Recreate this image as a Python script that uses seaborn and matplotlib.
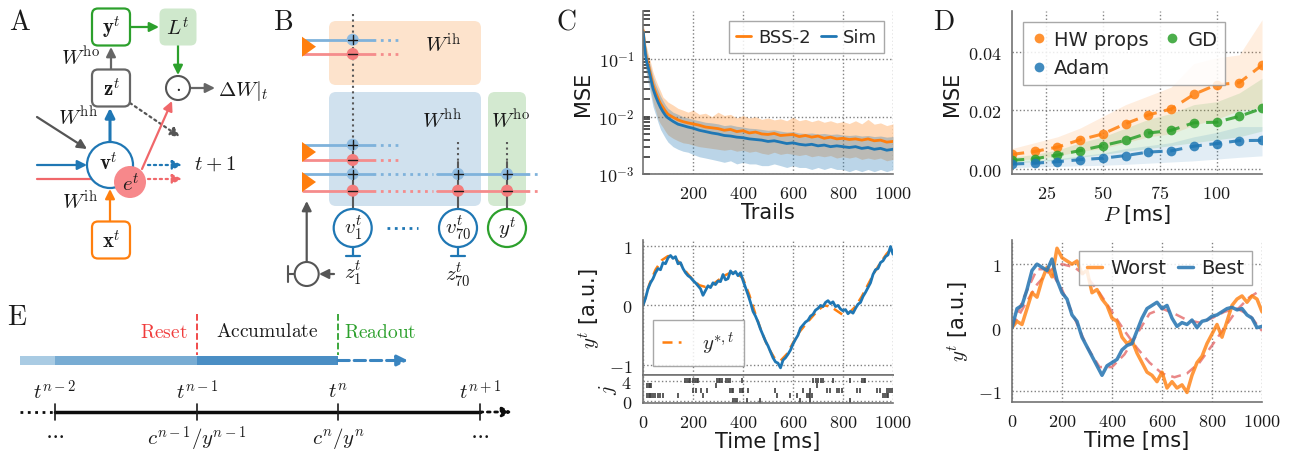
import numpy as np
import matplotlib
matplotlib.use('Agg')
import matplotlib.pyplot as plt
import seaborn as sns
from matplotlib.patches import FancyBboxPatch, Circle, Rectangle, Polygon
from matplotlib.ticker import FuncFormatter, FixedLocator, LogLocator, NullFormatter
from matplotlib.lines import Line2D

# ---------------- data ----------------
# Panel C (top): MSE vs trials
trials = [1, 5, 10, 15, 20, 30, 40, 50, 60, 70, 80, 90, 100, 120, 140, 160, 180, 200, 225, 250,
          275, 300, 325, 350, 375, 400, 425, 450, 475, 500, 525, 550, 575, 600, 625, 650, 675, 700,
          725, 750, 775, 800, 825, 850, 875, 900, 925, 950, 975, 1000]
bss_mean = [0.32, 0.2, 0.13, 0.1, 0.085, 0.055, 0.036, 0.027, 0.021, 0.017, 0.0145, 0.0125, 0.011,
            0.0098, 0.0088, 0.0082, 0.0078, 0.0075, 0.0071, 0.0066, 0.0064, 0.0062, 0.0058, 0.006,
            0.0055, 0.0057, 0.0052, 0.0054, 0.005, 0.0049, 0.0051, 0.0047, 0.0048, 0.0049, 0.0045,
            0.0047, 0.0044, 0.0046, 0.0042, 0.0044, 0.0041, 0.0042, 0.004, 0.0041, 0.0039, 0.0041,
            0.0038, 0.0039, 0.0036, 0.0037]
bss_upper = [0.45, 0.3, 0.2, 0.16, 0.13, 0.09, 0.06, 0.045, 0.035, 0.028, 0.022, 0.02, 0.018, 0.016,
             0.014, 0.013, 0.012, 0.013, 0.011, 0.0115, 0.01, 0.012, 0.0105, 0.011, 0.0095, 0.0105,
             0.0095, 0.01, 0.009, 0.0095, 0.0088, 0.0092, 0.0085, 0.0098, 0.0085, 0.009, 0.0082,
             0.0088, 0.008, 0.0085, 0.0078, 0.0082, 0.0076, 0.0085, 0.0075, 0.009, 0.0074, 0.0078,
             0.007, 0.0075]
bss_lower = [0.2, 0.12, 0.075, 0.055, 0.045, 0.03, 0.018, 0.013, 0.009, 0.0075, 0.0065, 0.0055,
             0.0048, 0.0042, 0.0038, 0.0035, 0.0034, 0.0032, 0.003, 0.0029, 0.0028, 0.0027, 0.0026,
             0.0027, 0.0025, 0.0026, 0.0024, 0.0025, 0.0023, 0.0022, 0.0024, 0.0022, 0.0023, 0.0022,
             0.0021, 0.0022, 0.002, 0.0021, 0.002, 0.0021, 0.0019, 0.002, 0.0019, 0.002, 0.0018,
             0.0019, 0.0018, 0.0019, 0.0017, 0.0018]
sim_mean = [0.3, 0.19, 0.12, 0.09, 0.075, 0.048, 0.031, 0.023, 0.018, 0.0145, 0.0122, 0.0105, 0.0095,
            0.0083, 0.0074, 0.007, 0.0066, 0.0063, 0.0058, 0.0055, 0.0052, 0.005, 0.0047, 0.0046,
            0.0044, 0.0043, 0.0041, 0.004, 0.0039, 0.0037, 0.0038, 0.0036, 0.0034, 0.0035, 0.0033,
            0.0032, 0.0033, 0.0031, 0.0032, 0.003, 0.0031, 0.003, 0.0029, 0.003, 0.0028, 0.0029,
            0.0027, 0.0028, 0.0026, 0.0027]
sim_upper = [0.4, 0.27, 0.18, 0.14, 0.11, 0.075, 0.05, 0.037, 0.029, 0.023, 0.019, 0.016, 0.014,
             0.012, 0.011, 0.01, 0.0095, 0.009, 0.0085, 0.008, 0.0078, 0.0075, 0.007, 0.0072, 0.0068,
             0.0066, 0.0063, 0.0062, 0.006, 0.0058, 0.0059, 0.0056, 0.0054, 0.0055, 0.0052, 0.0051,
             0.0052, 0.005, 0.0051, 0.0049, 0.005, 0.0048, 0.0047, 0.0048, 0.0046, 0.0047, 0.0045,
             0.0046, 0.0044, 0.0045]
sim_lower = [0.2, 0.12, 0.07, 0.05, 0.04, 0.025, 0.015, 0.011, 0.008, 0.006, 0.005, 0.0042, 0.0036,
             0.003, 0.0027, 0.0025, 0.0024, 0.0022, 0.002, 0.0019, 0.0018, 0.0017, 0.0016, 0.0017,
             0.0015, 0.0016, 0.0015, 0.0015, 0.0014, 0.0014, 0.0015, 0.0014, 0.0013, 0.0014, 0.0013,
             0.0013, 0.0012, 0.0013, 0.0012, 0.0013, 0.0012, 0.0012, 0.0011, 0.0012, 0.0011, 0.0012,
             0.0011, 0.0012, 0.0011, 0.0012]

# Panel C (bottom): target and output trace
target_t = list(range(0, 1001, 25))
target_c = [0.0, 0.35, 0.6, 0.76, 0.83, 0.81, 0.70, 0.55, 0.43, 0.34, 0.31, 0.34, 0.42, 0.50, 0.55,
            0.55, 0.45, 0.18, -0.15, -0.45, -0.70, -0.88, -0.93, -0.82, -0.63, -0.45, -0.32, -0.20,
            -0.08, 0.0, -0.02, -0.09, -0.16, -0.12, -0.02, 0.15, 0.35, 0.55, 0.72, 0.87, 0.98]
output_t = list(range(0, 1001, 10))
output_c = [0.0, 0.12, 0.28, 0.38, 0.45, 0.55, 0.62, 0.60, 0.72, 0.70, 0.80, 0.84, 0.79, 0.82, 0.70,
            0.72, 0.62, 0.55, 0.50, 0.47, 0.42, 0.38, 0.33, 0.28, 0.17, 0.25, 0.33, 0.30, 0.38, 0.35,
            0.41, 0.40, 0.52, 0.43, 0.45, 0.58, 0.53, 0.57, 0.50, 0.55, 0.42, 0.30, 0.18, 0.05, -0.10,
            -0.18, -0.28, -0.40, -0.50, -0.60, -0.68, -0.78, -0.88, -0.95, -0.97, -1.05, -0.92, -0.88,
            -0.82, -0.75, -0.65, -0.57, -0.50, -0.38, -0.33, -0.28, -0.25, -0.18, -0.15, -0.08, -0.05,
            0.0, -0.02, 0.05, 0.08, 0.03, 0.06, -0.02, 0.0, -0.06, -0.09, -0.07, -0.14, -0.10, -0.13,
            -0.05, 0.02, 0.05, 0.15, 0.22, 0.30, 0.38, 0.52, 0.60, 0.62, 0.72, 0.75, 0.82, 0.85, 0.99,
            0.86]

# Panel C (raster): spike times of 5 hidden units
spikes_j0 = [361, 368, 375, 415, 468, 628, 668, 828]
spikes_j1 = [17, 22, 27, 33, 40, 48, 60, 68, 81, 141, 241, 535, 588, 615, 655, 662, 668, 675,
             961, 968, 975, 981]
spikes_j2 = [201, 212, 230, 255, 348, 355, 361, 388, 395, 401, 421, 528, 641, 668, 735, 748, 775,
             785, 795, 855, 868, 935, 948, 975, 983, 990, 999]
spikes_j3 = [17, 22, 28, 31, 292, 697]
spikes_j4 = [168, 175, 182, 188, 201, 207, 214, 221, 295, 302, 308, 315, 331, 338, 348, 395, 681,
             690, 700, 712, 721, 761, 828, 875, 882, 888]

# Panel D (top): MSE vs period P
period = [10, 20, 30, 40, 50, 60, 70, 80, 90, 100, 110, 120]
hw_mean = [0.005, 0.006, 0.0075, 0.010, 0.012, 0.0155, 0.0185, 0.0205, 0.0255, 0.0288, 0.0295, 0.0355]
hw_upper = [0.007, 0.009, 0.011, 0.014, 0.018, 0.022, 0.025, 0.028, 0.036, 0.038, 0.039, 0.051]
hw_lower = [0.003, 0.0035, 0.0045, 0.006, 0.007, 0.009, 0.011, 0.012, 0.015, 0.017, 0.02, 0.021]
gd_mean = [0.003, 0.0035, 0.0048, 0.0063, 0.008, 0.0098, 0.0123, 0.0132, 0.0158, 0.016, 0.018, 0.0207]
gd_upper = [0.004, 0.005, 0.0065, 0.009, 0.011, 0.014, 0.017, 0.019, 0.022, 0.023, 0.026, 0.031]
gd_lower = [0.002, 0.0025, 0.003, 0.004, 0.005, 0.006, 0.007, 0.008, 0.009, 0.010, 0.011, 0.013]
adam_mean = [0.0017, 0.002, 0.0025, 0.0032, 0.0037, 0.0046, 0.0058, 0.0062, 0.0078, 0.0087, 0.0097, 0.0098]
adam_upper = [0.0025, 0.003, 0.0035, 0.0045, 0.0055, 0.007, 0.008, 0.009, 0.011, 0.0125, 0.0145, 0.0145]
adam_lower = [0.0005, 0.0007, 0.0009, 0.0011, 0.0013, 0.0016, 0.002, 0.0024, 0.0028, 0.0034, 0.004, 0.0045]

# Panel D (bottom): worst / best traces with their targets
target_d_t = list(range(0, 1001, 50))
target_best = [0.0, 0.5, 0.92, 0.92, 0.6, 0.15, -0.3, -0.62, -0.62, -0.42, -0.1, 0.22, 0.3, 0.22,
               0.12, 0.08, 0.15, 0.25, 0.3, 0.2, -0.05]
target_worst = [0.0, 0.35, 0.68, 0.9, 1.0, 0.95, 0.8, 0.55, 0.25, -0.05, -0.32, -0.55, -0.72, -0.78,
                -0.72, -0.55, -0.28, 0.0, 0.28, 0.48, 0.6]
trace_d_t = list(range(0, 1001, 20))
best_trace = [0.0, 0.3, 0.35, 0.6, 0.9, 1.0, 0.95, 0.9, 1.08, 0.75, 0.55, 0.45, 0.2, 0.1, -0.15, -0.3,
              -0.45, -0.6, -0.75, -0.6, -0.55, -0.5, -0.35, -0.28, -0.25, -0.05, 0.15, 0.3, 0.35, 0.4,
              0.3, 0.35, 0.15, 0.02, 0.08, 0.05, 0.12, 0.0, 0.1, 0.12, 0.18, 0.2, 0.25, 0.3, 0.32,
              0.28, 0.3, 0.2, 0.15, 0.0, 0.02]
worst_trace = [0.0, 0.1, 0.05, 0.3, 0.55, 0.48, 0.75, 0.95, 0.8, 1.25, 1.1, 1.05, 1.0, 1.05, 0.85,
               0.9, 0.55, 0.6, 0.45, 0.35, 0.15, 0.1, -0.15, -0.25, -0.2, -0.4, -0.55, -0.7, -0.75,
               -0.85, -0.7, -0.95, -0.85, -0.95, -0.9, -1.02, -0.75, -0.55, -0.45, -0.25, -0.1, 0.05,
               -0.15, 0.1, 0.35, 0.45, 0.5, 0.4, 0.5, 0.45, 0.25]

# ---------------- style ----------------
sns.set_theme(style='whitegrid')
plt.rcParams.update({
    'mathtext.fontset': 'cm',
    'grid.linestyle': ':',
    'grid.color': '0.5',
    'grid.linewidth': 1.0,
    'axes.edgecolor': '0.45',
    'axes.linewidth': 1.2,
    'axes.labelcolor': '0.1',
    'xtick.color': '0.1',
    'ytick.color': '0.1',
    'legend.edgecolor': '0.6',
    'legend.fancybox': False,
    'legend.framealpha': 0.85,
})
plt.rcParams['font.family'] = ['DejaVu Sans']

BLUE = '#1f77b4'
ORANGE = '#ff7f0e'
GREEN = '#2ca02c'
RED = '#f0676a'
REDFILL = '#f7888b'

TICK_FS = 13
LABEL_FS = 15

fmt_int = FuncFormatter(lambda v, p: f'${v:g}$')
fmt_2f = FuncFormatter(lambda v, p: f'${v:.2f}$')
fmt_log = FuncFormatter(lambda v, p: f'$10^{{{int(round(np.log10(v)))}}}$')

fig = plt.figure(figsize=(12.94, 4.52), dpi=100)
W, H = 1294, 452

# diagram canvas in pixel coordinates
dax = fig.add_axes([0, 0, 1, 1])
dax.set_xlim(0, W)
dax.set_ylim(H, 0)
dax.axis('off')


def box(cx, cy, w, h, ec, fc='white', lw=1.6, r=6):
    dax.add_patch(FancyBboxPatch((cx - w / 2, cy - h / 2), w, h,
                                 boxstyle=f'round,pad=0,rounding_size={r}',
                                 ec=ec, fc=fc, lw=lw, zorder=3))


def arrow(x0, y0, x1, y1, color, lw=1.6, ls='-', ms=14, z=2):
    dax.annotate('', xy=(x1, y1), xytext=(x0, y0),
                 arrowprops=dict(arrowstyle='-|>', color=color, lw=lw, ls=ls,
                                 mutation_scale=ms, shrinkA=0, shrinkB=0),
                 zorder=z)


def txt(x, y, s, fs=15, color='0.1', ha='center', va='center', z=5):
    dax.text(x, y, s, fontsize=fs, color=color, ha=ha, va=va, zorder=z)


# ---------------- Panel A ----------------
txt(20, 22, r'$\mathrm{A}$', fs=20)
box(111, 28, 38, 37, GREEN)
box(178, 28, 37, 37, 'none', fc='#cfe8cc')
box(111, 89, 38, 37, '#666666')
box(111, 241, 38, 37, ORANGE)
txt(111, 28, r'$\mathbf{y}^t$', fs=15)
txt(178, 28, r'$L^t$', fs=15)
txt(111, 89, r'$\mathbf{z}^t$', fs=15)
txt(111, 241, r'$\mathbf{x}^t$', fs=15)
arrow(130, 28, 159, 28, GREEN)
arrow(178, 46, 178, 76, GREEN)
arrow(111, 70, 111, 48, '#666666')
dax.add_patch(Circle((178, 89), 12, ec='#555555', fc='white', lw=1.5, zorder=3))
txt(178, 87, r'$\cdot$', fs=15)
arrow(190, 89, 215, 89, '#666666')
txt(218, 91, r'$\Delta W|_t$', fs=15, ha='left')
txt(80, 57, r'$W^{\mathrm{ho}}$', fs=15)
txt(78, 117, r'$W^{\mathrm{hh}}$', fs=15)
txt(80, 202, r'$W^{\mathrm{ih}}$', fs=15)
arrow(37, 118, 87, 150, '#555555')
arrow(130, 104, 180, 138, '#555555', ls=':')
arrow(110, 143, 110, 109, BLUE, lw=2.2)
arrow(110, 222, 110, 190, ORANGE)
arrow(37, 166, 87, 166, BLUE)
arrow(37, 180, 112, 180, RED)
dax.add_patch(Circle((110, 166), 23, ec=BLUE, fc='white', lw=1.6, zorder=3))
txt(108, 163, r'$\mathbf{v}^t$', fs=15)
dax.add_patch(Circle((130, 183), 16, ec='none', fc=REDFILL, zorder=4))
txt(131, 184, r'$e^t$', fs=15)
arrow(148, 166, 182, 166, BLUE, ls=':')
arrow(148, 180, 182, 180, RED, ls=':')
arrow(142, 170, 172, 102, RED)
txt(215, 164, r'$t+1$', fs=15)

# ---------------- Panel B ----------------
txt(283, 22, r'$\mathrm{B}$', fs=20)
dax.add_patch(FancyBboxPatch((329, 22), 152, 64, boxstyle='round,pad=0,rounding_size=7',
                             ec='none', fc='#fde3cc', zorder=1))
dax.add_patch(FancyBboxPatch((329, 93), 152, 114, boxstyle='round,pad=0,rounding_size=7',
                             ec='none', fc='#d0e1ee', zorder=1))
dax.add_patch(FancyBboxPatch((488, 93), 38, 114, boxstyle='round,pad=0,rounding_size=7',
                             ec='none', fc='#d3e9d0', zorder=1))
txt(443, 45, r'$W^{\mathrm{ih}}$', fs=15)
txt(442, 120, r'$W^{\mathrm{hh}}$', fs=15)
txt(510, 120, r'$W^{\mathrm{ho}}$', fs=15)
LB, LR = '#7fb2db', '#f58c8c'
col1, col2, col3 = 352.7, 458, 507
# vertical wires
dax.plot([col1, col1], [15, 143], ls=':', color='0.35', lw=1.5, zorder=2)
dax.plot([col1, col1], [143, 210], ls='-', color='0.35', lw=1.5, zorder=2)
for cx in (col2, col3):
    dax.plot([cx, cx], [143, 163], ls=':', color='0.35', lw=1.5, zorder=2)
    dax.plot([cx, cx], [163, 210], ls='-', color='0.35', lw=1.5, zorder=2)
# horizontal wires
for yy, cc in ((40.7, LB), (55, LR), (145.7, LB), (161, LR)):
    dax.plot([303, 373], [yy, yy], color=cc, lw=2, zorder=2)
    dax.plot([373, 402], [yy, yy], color=cc, lw=2, ls=':', zorder=2)
for yy, cc in ((175, LB), (191.7, LR)):
    dax.plot([303, 373], [yy, yy], color=cc, lw=2, zorder=2)
    dax.plot([373, 433], [yy, yy], color=cc, lw=2, ls=':', zorder=2)
    dax.plot([437, 527], [yy, yy], color=cc, lw=2, zorder=2)
    dax.plot([527, 540], [yy, yy], color=cc, lw=2, ls=':', zorder=2)
for yc in (47.7, 153, 183):
    dax.add_patch(Polygon([(302, yc - 10), (302, yc + 10), (316, yc)], closed=True,
                          fc=ORANGE, ec='none', zorder=4))
for (xx, yy, plus) in ((col1, 40.7, True), (col1, 55, False), (col1, 145.7, True), (col1, 161, False),
                       (col1, 175, True), (col1, 191.7, False), (col2, 175, True), (col2, 191.7, False),
                       (col3, 175, True), (col3, 191.7, False)):
    dax.add_patch(Circle((xx, yy), 6, fc=('#8fbbe0' if plus else '#f47c7c'), ec='none', zorder=4))
    dax.plot([xx - 4.5, xx + 4.5], [yy, yy], color='0.1', lw=1, zorder=5)
    if plus:
        dax.plot([xx, xx], [yy - 4.5, yy + 4.5], color='0.1', lw=1, zorder=5)
for cx, lab, cc in ((col1, r'$v_1^t$', BLUE), (col2, r'$v_{70}^t$', BLUE), (col3, r'$y^t$', GREEN)):
    dax.add_patch(Circle((cx, 229), 19, ec=cc, fc='white', lw=1.6, zorder=3))
    txt(cx, 229, lab, fs=15)
for cx in (col1, col2):
    dax.plot([cx, cx], [248, 257], color=BLUE, lw=1.6, zorder=3)
    dax.plot([cx - 7, cx + 7], [257, 257], color=BLUE, lw=1.6, zorder=3)
dax.plot([387, 418], [229, 229], color=BLUE, ls=':', lw=2, zorder=3)
txt(353, 274, r'$z_1^t$', fs=15)
txt(458, 276, r'$z_{70}^t$', fs=15)
dax.add_patch(Circle((306.7, 275), 12, ec='#555555', fc='white', lw=1.5, zorder=3))
dax.plot([288, 295], [275, 275], color='#555555', lw=1.5)
dax.plot([288, 288], [267, 283], color='#555555', lw=1.5)
arrow(334, 275, 319, 275, '#555555')
arrow(306.7, 263, 306.7, 202, '#555555')

# ---------------- Panel E ----------------
txt(17, 317, r'$\mathrm{E}$', fs=20)
dax.add_patch(Rectangle((20, 357), 35, 9, fc='#a9cbe3', ec='none'))
dax.add_patch(Rectangle((55, 357), 142, 9, fc='#78acd3', ec='none'))
dax.add_patch(Rectangle((197, 357), 141, 9, fc='#4a8ec4', ec='none'))
arrow(338, 361.5, 408, 361.5, '#3a85c0', lw=2.2, ls='--', ms=16)
dax.plot([197, 197], [315, 356], color='#f03c3c', ls='--', lw=1.3)
dax.plot([338, 338], [315, 356], color=GREEN, ls='--', lw=1.3)
txt(164, 333, r'$\mathrm{Reset}$', fs=14, color='#f03c3c')
txt(267, 332, r'$\mathrm{Accumulate}$', fs=14)
txt(380, 333, r'$\mathrm{Readout}$', fs=14, color=GREEN)
dax.plot([20, 55], [413, 413], color='0.05', ls=':', lw=2)
dax.plot([55, 480], [413, 413], color='0.05', lw=2.5)
arrow(480, 413, 512, 413, '0.05', lw=2, ls=':', ms=14)
for xx, top, bot in ((55, r'$t^{n-2}$', r'$\cdots$'), (197, r'$t^{n-1}$', r'$c^{n-1}/y^{n-1}$'),
                     (338, r'$t^{n}$', r'$c^{n}/y^{n}$'), (480, r'$t^{n+1}$', r'$\cdots$')):
    dax.plot([xx, xx], [405, 421], color='0.1', lw=1.2)
    txt(xx, 392, top, fs=15)
    txt(xx, 439 if bot != r'$\cdots$' else 434, bot, fs=15)

# panel letters for plot panels
txt(566, 22, r'$\mathrm{C}$', fs=20)
txt(944, 22, r'$\mathrm{D}$', fs=20)


def pix_axes(x0, y0, x1, y1):
    return fig.add_axes([x0 / W, 1 - y1 / H, (x1 - x0) / W, (y1 - y0) / H])


def clean(ax):
    sns.despine(ax=ax)
    ax.tick_params(labelsize=TICK_FS, pad=1.5)
    ax.grid(True, which='major')
    ax.grid(False, which='minor')


# ---------------- Panel C top ----------------
axc = pix_axes(643, 12, 893, 175)
axc.fill_between(trials, bss_lower, bss_upper, color=ORANGE, alpha=0.3, lw=0)
axc.fill_between(trials, sim_lower, sim_upper, color=BLUE, alpha=0.3, lw=0)
sns.lineplot(x=trials, y=bss_mean, ax=axc, color=ORANGE, lw=2, label='BSS-2')
sns.lineplot(x=trials, y=sim_mean, ax=axc, color=BLUE, lw=2, label='Sim')
axc.set_yscale('log')
axc.set_xlim(0, 1000)
axc.set_ylim(1e-3, 0.7)
axc.xaxis.set_major_locator(FixedLocator([200, 400, 600, 800, 1000]))
axc.xaxis.set_major_formatter(fmt_int)
axc.yaxis.set_major_locator(FixedLocator([1e-3, 1e-2, 1e-1]))
axc.yaxis.set_major_formatter(fmt_log)
axc.yaxis.set_minor_locator(LogLocator(base=10, subs=np.arange(2, 10)))
axc.yaxis.set_minor_formatter(NullFormatter())
clean(axc)
axc.tick_params(axis='y', which='both', direction='in', left=True, length=5, width=1.2, color='0.2',
                pad=6)
axc.set_xlabel('Trails', fontsize=LABEL_FS, labelpad=0)
axc.set_ylabel('MSE', fontsize=LABEL_FS)
axc.legend(loc='upper right', bbox_to_anchor=(0.965, 0.94), borderaxespad=0, ncol=2,
           handlelength=0.8, handletextpad=0.4, columnspacing=0.6, fontsize=13)

# ---------------- Panel C bottom ----------------
axy = pix_axes(643, 241, 893, 376)
sns.lineplot(x=target_t, y=target_c, ax=axy, color=ORANGE, lw=1.8)
axy.lines[-1].set_linestyle((0, (4, 2.5)))
sns.lineplot(x=output_t, y=output_c, ax=axy, color=BLUE, lw=2)
axy.set_xlim(0, 1000)
axy.set_ylim(-1.17, 1.1)
axy.xaxis.set_major_locator(FixedLocator([0, 200, 400, 600, 800, 1000]))
axy.yaxis.set_major_locator(FixedLocator([-1, 0, 1]))
axy.yaxis.set_major_formatter(fmt_int)
clean(axy)
axy.set_xticklabels([])
axy.set_ylabel(r'$y^t$ [a.u.]', fontsize=LABEL_FS)
axy.legend(handles=[Line2D([], [], color=ORANGE, lw=1.8, ls=(0, (4, 2.5)))],
           labels=[r'$y^{*,t}$'], loc='lower left', bbox_to_anchor=(0.04, 0.07),
           borderaxespad=0, fontsize=15, handlelength=0.9, borderpad=0.45, handletextpad=1.0)

axr = pix_axes(643, 376, 893, 404)
axr.eventplot([spikes_j0, spikes_j1, spikes_j2, spikes_j3, spikes_j4],
              lineoffsets=[0, 1, 2, 3, 4], linelengths=0.9, colors='0.25', linewidths=1.2)
axr.set_xlim(0, 1000)
axr.set_ylim(-0.46, 5.1)
axr.xaxis.set_major_locator(FixedLocator([0, 200, 400, 600, 800, 1000]))
axr.xaxis.set_major_formatter(fmt_int)
axr.yaxis.set_major_locator(FixedLocator([0, 4]))
axr.yaxis.set_major_formatter(fmt_int)
clean(axr)
axr.spines['top'].set_visible(True)
axr.tick_params(axis='y', labelsize=TICK_FS, pad=2)
axr.set_xlabel('Time [ms]', fontsize=LABEL_FS, labelpad=0)
axr.set_ylabel(r'$j$', fontsize=LABEL_FS, labelpad=2)

# ---------------- Panel D top ----------------
axd = pix_axes(1012, 12, 1262, 175)
for lo, hi, cc in ((hw_lower, hw_upper, ORANGE), (gd_lower, gd_upper, GREEN), (adam_lower, adam_upper, BLUE)):
    axd.fill_between(period, lo, hi, color=cc, alpha=0.13, lw=0)
for mean, cc in ((hw_mean, ORANGE), (gd_mean, GREEN), (adam_mean, BLUE)):
    sns.lineplot(x=period, y=mean, ax=axd, color=cc, lw=2.2, marker='o', markersize=7,
                 markeredgewidth=0, alpha=0.85)
    axd.lines[-1].set_linestyle((0, (4, 2.5)))
axd.set_xlim(10, 120)
axd.set_ylim(-0.0017, 0.054)
axd.xaxis.set_major_locator(FixedLocator([25, 50, 75, 100]))
axd.xaxis.set_major_formatter(fmt_int)
axd.yaxis.set_major_locator(FixedLocator([0.0, 0.02, 0.04]))
axd.yaxis.set_major_formatter(fmt_2f)
clean(axd)
axd.set_xlabel(r'$P$ [ms]', fontsize=LABEL_FS, labelpad=0)
axd.set_ylabel('MSE', fontsize=LABEL_FS)
mk = lambda c: Line2D([], [], color=c, marker='o', ls='none', markersize=7, markeredgewidth=0, alpha=0.85)
axd.legend(handles=[mk(ORANGE), mk(BLUE), mk(GREEN)], labels=['HW props', 'Adam', 'GD'], ncol=2,
           loc='upper left', bbox_to_anchor=(0.044, 0.933), borderaxespad=0, fontsize=14,
           handlelength=0.8, handletextpad=0.4, columnspacing=0.8)

# ---------------- Panel D bottom ----------------
axb = pix_axes(1012, 241, 1262, 403)
for tgt in (target_worst, target_best):
    sns.lineplot(x=target_d_t, y=tgt, ax=axb, color='#e46a6a', lw=1.8, alpha=0.8)
    axb.lines[-1].set_linestyle((0, (4, 2.5)))
sns.lineplot(x=trace_d_t, y=worst_trace, ax=axb, color=ORANGE, lw=2.5, alpha=0.8, label='Worst')
sns.lineplot(x=trace_d_t, y=best_trace, ax=axb, color='#2f7bb5', lw=2.5, alpha=0.9, label='Best')
axb.set_xlim(0, 1000)
axb.set_ylim(-1.17, 1.38)
axb.xaxis.set_major_locator(FixedLocator([0, 200, 400, 600, 800, 1000]))
axb.xaxis.set_major_formatter(fmt_int)
axb.yaxis.set_major_locator(FixedLocator([-1, 0, 1]))
axb.yaxis.set_major_formatter(fmt_int)
clean(axb)
axb.set_xlabel('Time [ms]', fontsize=LABEL_FS, labelpad=0)
axb.set_ylabel(r'$y^t$ [a.u.]', fontsize=LABEL_FS)
axb.legend(loc='upper right', bbox_to_anchor=(0.959, 0.934), borderaxespad=0, ncol=2, fontsize=14,
           handlelength=0.8, handletextpad=0.4, columnspacing=0.6)

fig.savefig('out.png', dpi=100)
